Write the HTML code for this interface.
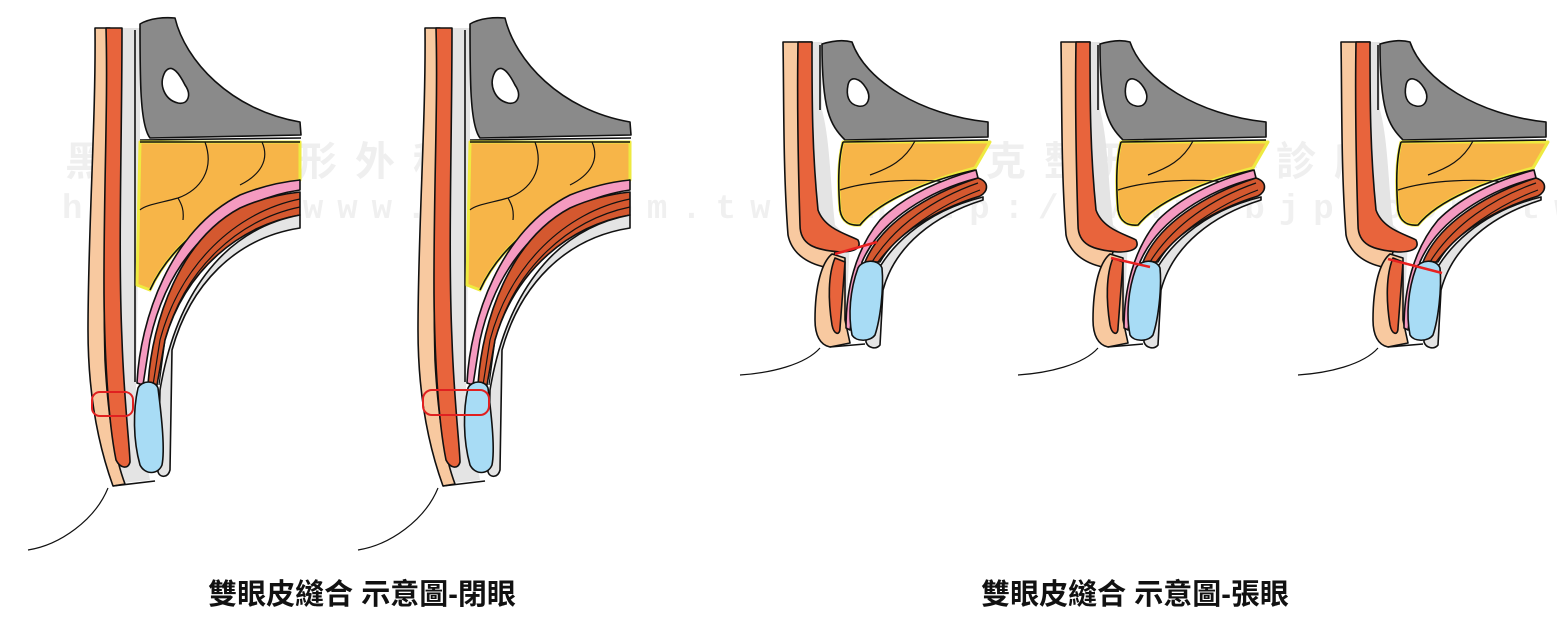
<!DOCTYPE html>
<html><head><meta charset="utf-8"><style>
html,body{margin:0;padding:0;background:#fff;}
svg{display:block;}
</style></head><body>
<svg width="1557" height="626" viewBox="0 0 1557 626" xmlns="http://www.w3.org/2000/svg">
<defs>
<g id="closed" stroke="#111" stroke-width="1.6" stroke-linejoin="round">
  <path d="M118,28 L140,28 L140,140 L136,390 L150,480 L113,484 Z" fill="#e4e4e4" stroke="none"/>
  <path d="M95,28 L110,28 C108,120 102,250 105,360 C108,420 116,460 125,484 L113,486 C100,450 88,400 88,330 C88,230 96,120 95,28 Z" fill="#f8c9a0"/>
  <path d="M106,28 L122,28 C122,140 118,250 122,340 C124,400 130,450 130,462 C128,470 120,468 116,460 C108,420 104,350 104,280 C104,180 108,100 106,28 Z" fill="#e8643c"/>
  <line x1="135" y1="30" x2="135" y2="382" stroke-width="1.6"/>
  <path d="M140,24 C150,18 165,17 175,18 C185,60 230,110 300,122 L301,135 L150,138 C140,125 140,80 140,24 Z" fill="#8a8a8a"/>
  <path d="M165,72 C172,62 180,75 185,85 C192,95 188,105 178,103 C165,100 158,85 165,72 Z" fill="#fff"/>
  <line x1="140" y1="140" x2="301" y2="138"/>
  <path d="M140,142 L300,142 L300,180 C240,195 175,235 150,290 L137,285 Z" fill="#f7b548" stroke="#eeea40" stroke-width="3"/>
  <path d="M140,142 L300,142 M300,180 C240,195 175,235 150,290" fill="none"/>
  <path d="M205,142 C215,170 200,190 178,198 C160,203 145,205 140,210 M262,142 C270,160 260,175 240,185 M178,198 C182,205 184,210 183,220" fill="none" stroke-width="1.2"/>
  <path d="M300,180 L300,190 C230,200 170,250 150,340 L143,385 L137,383 C140,320 170,230 240,195 C260,187 280,182 300,180 Z" fill="#f59ac0"/>
  <path d="M300,192 L300,215 C240,225 185,270 165,340 L157,385 L148,385 C152,320 180,240 240,208 C262,198 282,194 300,192 Z" fill="#d4582f"/>
  <path d="M300,199 C235,212 180,265 160,340 L153,385 M300,207 C238,220 185,268 165,340 L159,385" fill="none" stroke-width="1.2"/>
  <path d="M300,215 L300,228 C235,238 190,285 172,350 L170,470 C168,478 160,478 158,472 L160,390 C175,300 220,230 300,215 Z" fill="#e4e4e4"/>
  <path d="M138,388 C142,380 155,380 158,388 C162,420 165,450 162,465 C158,475 145,475 140,465 C133,440 133,410 138,388 Z" fill="#a8dcf5"/>
  <path d="M113,486 L155,481" fill="none"/>
  <path d="M108,488 C95,520 60,545 28,550" fill="none" stroke-width="1.2"/>
</g>
<g id="open" stroke="#111" stroke-width="1.6" stroke-linejoin="round">
  <path d="M808,42 L822,42 L822,110 C830,140 830,180 835,225 L850,240 L845,340 L826,345 Z" fill="#e4e4e4" stroke="none"/>
  <path d="M783,42 L812,42 C805,100 800,160 805,220 C810,240 830,245 835,252 L830,268 C810,265 792,255 788,235 C783,170 784,100 783,42 Z" fill="#f8c9a0"/>
  <path d="M798,42 L812,42 C812,100 812,150 818,210 C825,230 850,235 858,240 C862,248 855,252 840,252 C815,250 800,245 800,225 C798,160 797,100 798,42 Z" fill="#e8643c"/>
  <path d="M832,254 C822,262 815,285 815,320 C815,335 820,345 830,347 L850,343 L845,320 L845,258 Z" fill="#f8c9a0"/>
  <path d="M835,258 C828,275 828,300 832,325 C834,335 840,336 840,328 L845,262 Z" fill="#e8643c"/>
  <line x1="820" y1="45" x2="820" y2="110"/>
  <path d="M822,44 C835,40 845,40 852,42 C865,80 920,115 988,122 L988,137 L845,140 C830,125 822,110 822,44 Z" fill="#8a8a8a"/>
  <path d="M848,85 C850,75 860,78 866,88 C872,97 868,108 858,106 C848,104 846,95 848,85 Z" fill="#fff"/>
  <path d="M843,142 L990,142 L975,168 C930,180 880,200 860,225 C850,226 842,222 840,210 C838,185 838,160 843,142 Z" fill="#f7b548" stroke="#eeea40" stroke-width="3"/>
  <path d="M843,142 L988,140 M975,170 C930,180 880,200 860,225 C850,226 842,222 840,210 C838,185 838,160 843,142" fill="none"/>
  <path d="M915,141 C905,160 890,168 870,175 M840,190 C870,180 920,178 955,183" fill="none" stroke-width="1.2"/>
  <path d="M976,170 L978,178 C930,190 880,220 862,262 L850,330 L846,328 C846,290 855,250 880,220 C905,195 940,180 976,170 Z" fill="#f59ac0"/>
  <path d="M978,178 C990,182 988,192 980,196 C935,210 895,235 880,262 L865,262 C880,225 925,195 978,178 Z" fill="#d4582f"/>
  <path d="M978,183 C935,198 895,225 872,262 M980,190 C940,205 900,232 878,262" fill="none" stroke-width="1.2"/>
  <path d="M983,200 C935,215 895,245 883,290 L880,345 C876,350 868,348 866,342 L866,300 C880,245 930,210 983,197 Z" fill="#e4e4e4"/>
  <path d="M858,268 C862,260 878,258 882,268 C884,290 880,320 875,335 C870,342 856,342 852,335 C848,315 850,290 858,268 Z" fill="#a8dcf5"/>
  <path d="M830,347 L865,344" fill="none"/>
  <path d="M820,348 C805,365 770,373 740,375" fill="none" stroke-width="1.2"/>
</g>
</defs>
<text x="65" y="175" font-family="Liberation Sans, Noto Sans CJK TC, sans-serif" font-size="40" font-weight="bold" fill="#efefef" letter-spacing="18">黑傑克整形外科診所</text>
<text x="62" y="218" font-family="Liberation Mono, monospace" font-size="34" font-weight="bold" fill="#f0f0f0" letter-spacing="14">http://www.bjp.com.tw</text>
<text x="870" y="175" font-family="Liberation Sans, Noto Sans CJK TC, sans-serif" font-size="40" font-weight="bold" fill="#efefef" letter-spacing="18">黑傑克整形外科診所</text>
<text x="866" y="218" font-family="Liberation Mono, monospace" font-size="34" font-weight="bold" fill="#f0f0f0" letter-spacing="14">http://www.bjp.com.tw</text>
<use href="#closed"/>
<use href="#closed" transform="translate(330,0)"/>
<use href="#open" transform="translate(0,0)"/>
<use href="#open" transform="translate(278,0)"/>
<use href="#open" transform="translate(558,0)"/>
<rect x="92" y="392" width="41" height="24" rx="8" fill="none" stroke="#e02020" stroke-width="2"/>
<rect x="423" y="390" width="66" height="25" rx="9" fill="none" stroke="#e02020" stroke-width="2"/>
<line x1="835" y1="254" x2="877" y2="242" stroke="#e82020" stroke-width="2.5"/>
<line x1="1111" y1="258" x2="1150" y2="267" stroke="#e82020" stroke-width="2.5"/>
<line x1="1388" y1="259" x2="1442" y2="273" stroke="#e82020" stroke-width="2.5"/>
<text x="362" y="604" text-anchor="middle" font-family="Liberation Sans, Noto Sans CJK TC, sans-serif" font-size="29" font-weight="bold" fill="#111">雙眼皮縫合 示意圖-閉眼</text>
<text x="1135" y="604" text-anchor="middle" font-family="Liberation Sans, Noto Sans CJK TC, sans-serif" font-size="29" font-weight="bold" fill="#111">雙眼皮縫合 示意圖-張眼</text>
</svg>
</body></html>
